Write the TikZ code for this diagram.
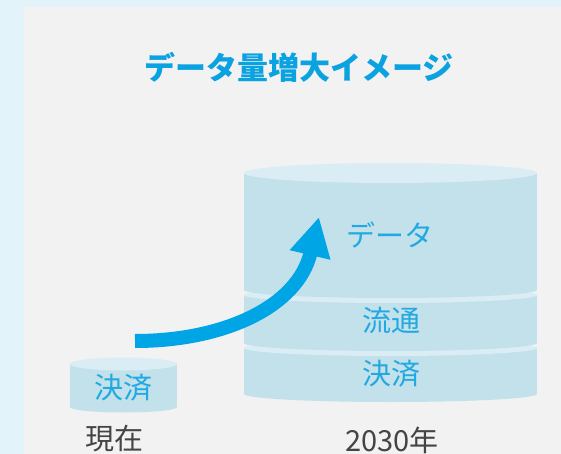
\documentclass[tikz,border=0pt]{standalone}
\usepackage{fontspec}
\setmainfont{Noto Sans CJK JP}
\usetikzlibrary{arrows.meta}
\definecolor{outerbg}{HTML}{E3F3FA}
\definecolor{panelbg}{HTML}{F2F2F2}
\definecolor{cylbody}{HTML}{C2E1EB}
\definecolor{cyltop}{HTML}{DAEDF5}
\definecolor{titleblue}{HTML}{0AA2E0}
\definecolor{textblue}{HTML}{22A9E2}
\definecolor{arrowblue}{HTML}{00A5E5}
\definecolor{labelgray}{HTML}{444444}
\tikzset{
  cyltext/.style={text=textblue, font=\fontsize{29}{31}\selectfont, inner sep=0pt},
  yearlabel/.style={text=labelgray, font=\fontsize{29}{31}\selectfont, inner sep=0pt},
  titletext/.style={text=titleblue, font=\fontsize{31}{33}\selectfont\bfseries, inner sep=0pt},
  bigarrow/.style={draw=arrowblue, line width=14pt, -{Triangle[length=39pt,width=39pt]}}
}
\begin{document}
\begin{tikzpicture}[x=1pt,y=-1pt]
\useasboundingbox (0,0) rectangle (561,454);
\fill[outerbg] (0,0) rectangle (561,454);
\fill[panelbg] (24,7) rectangle (561,454);
% big cylinder: segment 3 (bottom)
\fill[cylbody] (244,348) rectangle (537,394);
\fill[cylbody] (390.5,394) ellipse [x radius=146.5, y radius=8];
\fill[cyltop] (390.5,348) ellipse [x radius=146.5, y radius=8];
% segment 2
\fill[cylbody] (244,295) rectangle (537,343);
\fill[cylbody] (390.5,343) ellipse [x radius=146.5, y radius=8];
\fill[cyltop] (390.5,295) ellipse [x radius=146.5, y radius=8];
% segment 1 (top)
\fill[cylbody] (244,173) rectangle (537,290);
\fill[cylbody] (390.5,290) ellipse [x radius=146.5, y radius=8];
\fill[cyltop] (390.5,173) ellipse [x radius=146.5, y radius=10];
% small cylinder
\fill[cylbody] (70,364) rectangle (177,407);
\fill[cylbody] (123.5,407) ellipse [x radius=53.5, y radius=5.5];
\fill[cyltop] (123.5,364) ellipse [x radius=53.5, y radius=6.5];
% texts
\node[titletext] (title) at (299,67) {データ量増大イメージ};
\node[cyltext] (data) at (390,235) {データ};
\node[cyltext] (ryutsu) at (391,320) {流通};
\node[cyltext] (kessai) at (391,374) {決済};
\node[cyltext] (kessaiNow) at (123,388) {決済};
\node[yearlabel] (now) at (114,439) {現在};
\node[yearlabel] (future) at (392,440) {2030年};
% arrow
\coordinate (arrowStart) at (135,341);
\coordinate (arrowTip) at (319,217);
\draw[bigarrow] (arrowStart) .. controls (225,341) and (298,306) .. (arrowTip);
\end{tikzpicture}
\end{document}
